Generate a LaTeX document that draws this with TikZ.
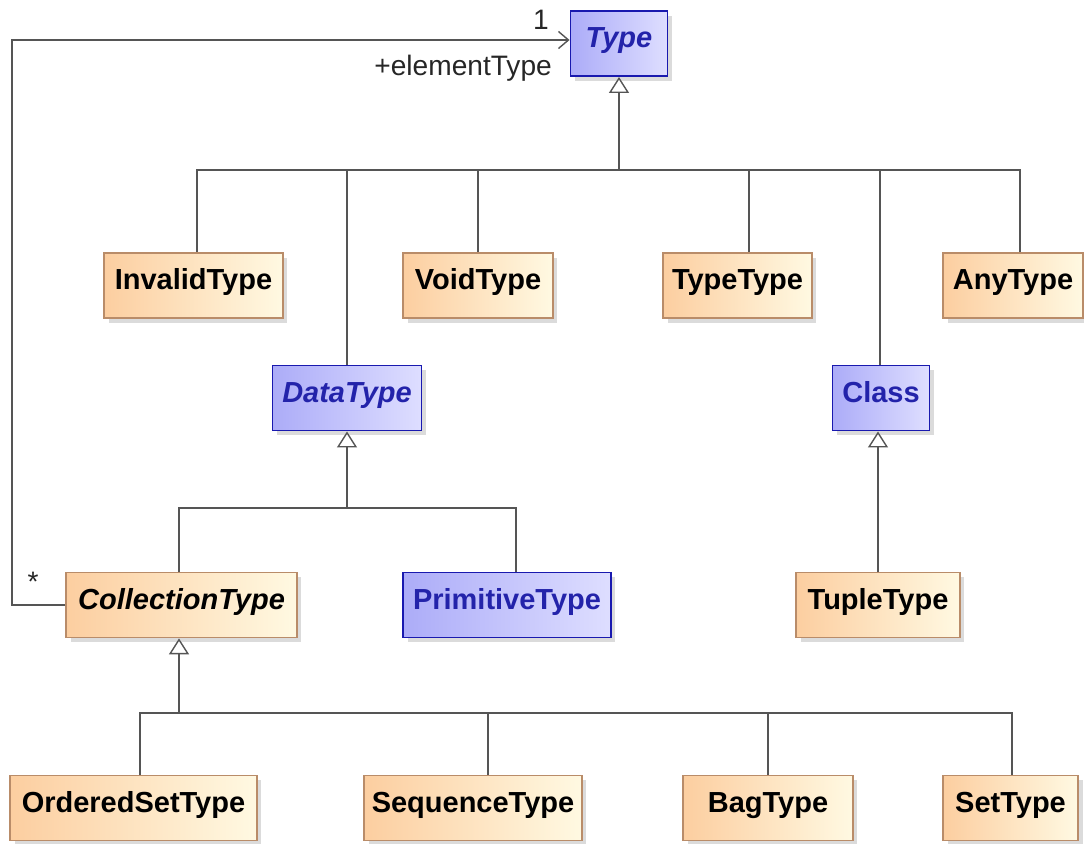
\documentclass[tikz,border=0pt]{standalone}
\usepackage{fontspec}
\setmainfont{Liberation Sans}
\usepackage{xcolor}
\usepackage{tikz}
\usetikzlibrary{arrows.meta, shadows, calc}

\definecolor{clsborder}{RGB}{185,140,105}
\definecolor{clsleft}{RGB}{252,206,160}
\definecolor{clsright}{RGB}{255,249,226}
\definecolor{dtborder}{RGB}{25,25,175}
\definecolor{dtleft}{RGB}{172,172,248}
\definecolor{dtright}{RGB}{222,222,255}
\definecolor{dttext}{RGB}{35,35,170}
\definecolor{linegray}{RGB}{85,85,85}

\begin{document}
\begin{tikzpicture}[
    x=0.02cm, y=-0.02cm,
    cls/.style={rectangle, draw=clsborder, left color=clsleft, right color=clsright, line width=1pt, minimum height=1.3cm, align=center, font=\bfseries\fontsize{16.5}{19}\selectfont, text height=12pt, text depth=7pt, drop shadow={shadow xshift=0.09cm, shadow yshift=-0.09cm, fill=black!28}},
    dtcls/.style={cls, draw=dtborder, left color=dtleft, right color=dtright, text=dttext, line width=1.1pt},
    abstract/.style={font=\bfseries\itshape\fontsize{16.5}{19}\selectfont},
    gen/.style={draw=linegray, line width=0.8pt},
    genhead/.style={gen, -{Triangle[open, width=0.4cm, length=0.32cm, fill=white]}},
    assoc/.style={draw=linegray, line width=0.8pt, -{Straight Barb[length=0.2cm, width=0.34cm]}},
    lbl/.style={font=\fontsize{16}{19}\selectfont, text=black!85}
]
\useasboundingbox (0,0) rectangle (1084,843);

% top level
\node (type) [dtcls, abstract, minimum width=1.94cm] at (619,43.5) {Type};

% subtypes of Type
\node (invalid) [cls, minimum width=3.58cm] at (193.5,285.5) {InvalidType};
\node (void) [cls, minimum width=3.0cm] at (478,285.5) {VoidType};
\node (typetype) [cls, minimum width=2.98cm] at (737.5,285.5) {TypeType};
\node (any) [cls, minimum width=2.8cm] at (1013,285.5) {AnyType};
\node (datatype) [dtcls, abstract, minimum width=2.98cm] at (347,398) {DataType};
\node (class) [dtcls, minimum width=1.94cm] at (881,398) {Class};

% second level
\node (collection) [cls, abstract, minimum width=4.62cm] at (181.5,605) {CollectionType};
\node (primitive) [dtcls, minimum width=4.16cm] at (507,605) {PrimitiveType};
\node (tuple) [cls, minimum width=3.28cm] at (878,605) {TupleType};

% collection kinds
\node (orderedset) [cls, minimum width=4.94cm] at (133.5,808) {OrderedSetType};
\node (sequence) [cls, minimum width=4.36cm] at (473,808) {SequenceType};
\node (bag) [cls, minimum width=3.4cm] at (768,808) {BagType};
\node (set) [cls, minimum width=2.7cm] at (1010.5,808) {SetType};

% generalization buses
\coordinate (typebus) at (619,170);
\coordinate (databus) at (347,508);
\coordinate (collbus) at (179,713);

\draw[gen] ([xshift=0.07cm]invalid.north) |- (typebus);
\draw[gen] (datatype.north) |- (typebus);
\draw[gen] (void.north) |- (typebus);
\draw[gen] ([xshift=0.23cm]typetype.north) |- (typebus);
\draw[gen] ([xshift=-0.02cm]class.north) |- (typebus);
\draw[gen] ([xshift=0.14cm]any.north) |- (typebus);
\draw[genhead] (typebus) -- (type.south);

\draw[gen] ([xshift=-0.05cm]collection.north) |- (databus);
\draw[gen] ([xshift=0.18cm]primitive.north) |- (databus);
\draw[genhead] (databus) -- (datatype.south);

\draw[genhead] (tuple.north) -- (tuple.north |- class.south);

\draw[gen] ([xshift=0.13cm]orderedset.north) |- (collbus);
\draw[gen] ([xshift=0.3cm]sequence.north) |- (collbus);
\draw[gen] (bag.north) |- (collbus);
\draw[gen] ([xshift=0.03cm]set.north) |- (collbus);
\draw[genhead] (collbus) -- (collbus |- collection.south);

% association
\coordinate (loopcorner) at (12,40);
\draw[assoc] (collection.west) -| (loopcorner) -- (type.west |- loopcorner);
\node[lbl] at (541,20) {1};
\node[lbl, anchor=east] at (558,68) {+elementType};
\node[lbl] at (33,582) {*};

\end{tikzpicture}
\end{document}
